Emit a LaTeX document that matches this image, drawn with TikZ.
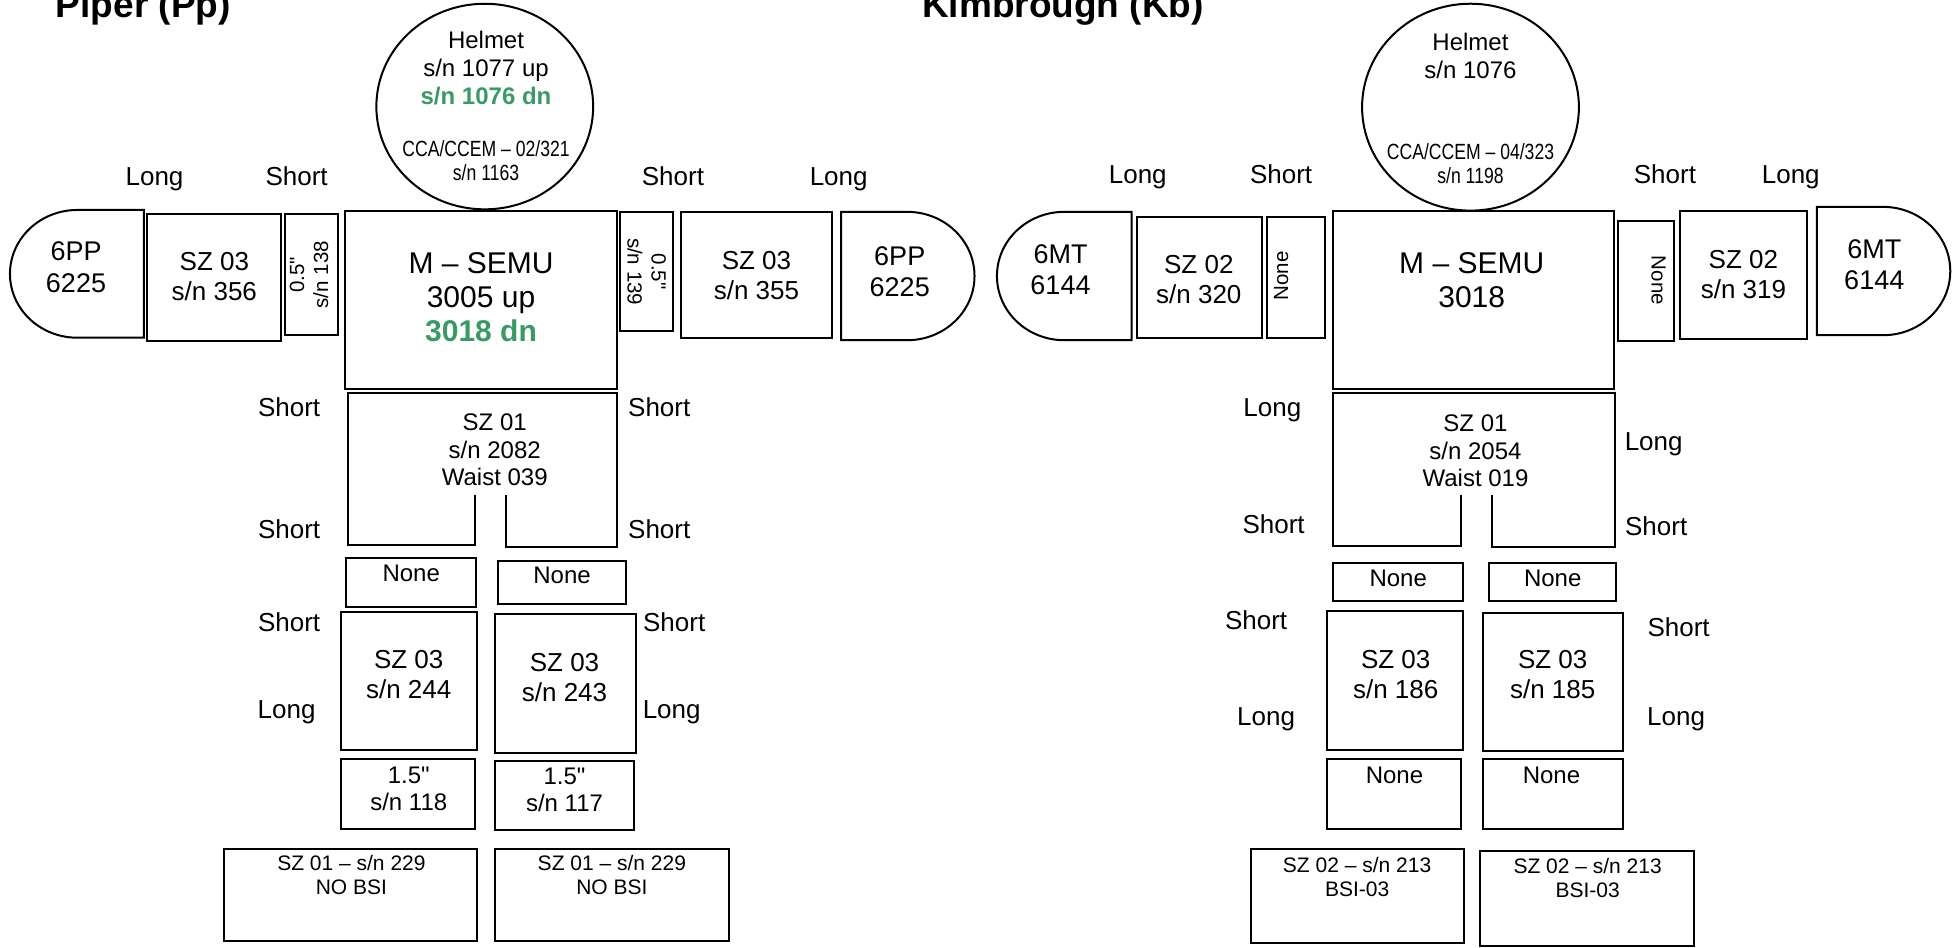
\documentclass[tikz,border=0pt]{standalone}
\usepackage{fontspec}
\usepackage{graphicx}
\setmainfont{Liberation Sans}
\usetikzlibrary{fit,shapes.geometric}
\definecolor{grn}{RGB}{56,155,100}
\font\qsmall="Liberation Sans" at 20.5pt
\font\qbig="Liberation Sans" at 24pt
\begin{document}
\begin{tikzpicture}[x=1.2462pt, y=1.2462pt,
  bx/.style={draw, line width=2pt, inner sep=0pt, outer sep=0pt, rectangle},
  shp/.style={draw, line width=2pt},
  helm/.style={draw, line width=2pt, ellipse, inner sep=0pt},
  t/.style={inner sep=0pt, align=center},
  f30/.style={t, font=\fontsize{30}{34}\selectfont},
  f27/.style={t, font=\fontsize{27}{31.5}\selectfont},
  f26/.style={t, font=\fontsize{26}{30}\selectfont},
  f24/.style={t, font=\fontsize{24}{27.5}\selectfont},
  f24h/.style={t, font=\fontsize{24}{28}\selectfont},
  f21/.style={t, font=\fontsize{21}{24}\selectfont},
  cca/.style={t, font=\fontsize{22}{24}\selectfont},
  rot/.style={t, font=\fontsize{20.5}{24}\selectfont},
  lbl/.style={inner sep=0pt, font=\fontsize{26}{30}\selectfont, text height=18.6pt, text depth=0pt},
  nn/.style={inner sep=0pt, font=\fontsize{24}{28}\selectfont, text height=17.2pt, text depth=0pt},
  ttl/.style={inner sep=0pt, font=\fontsize{37}{42}\selectfont\bfseries}
]
\useasboundingbox (0,0) rectangle (1568,-760);

% titles
\node[ttl, anchor=base west] (ptitle) at (44.7,-14.4) {Piper (Pp)};
\node[ttl, anchor=base west] (ktitle) at (739.8,-14.4) {Kimbrough (Kb)};

% ================= PIPER =================
\node[helm, minimum width=216.8pt, minimum height=205.6pt] (phelm) at (389,-85.5) {};
\node[f24h] (phelmt) at (390,-54.6) {Helmet\\s/n 1077 up\\\textcolor{grn}{\textbf{s/n 1076 dn}}};
\node[cca] (phelmc) at (390,-129.3) {\scalebox{0.8}[1]{CCA/CCEM -- 02/321}\\\scalebox{0.8}[1]{s/n 1163}};

\node[lbl] (pl1) at (124,-141) {Long};
\node[lbl] (pl2) at (238,-141) {Short};
\node[lbl] (pl3) at (540,-141) {Short};
\node[lbl] (pl4) at (673,-141) {Long};

\draw[shp] (115.5,-168.5) -- (62,-168.5) arc[start angle=90, end angle=270, x radius=54, y radius=51.25] -- (115.5,-271) -- cycle;
\node[f27] (pglovel) at (61,-214.5) {6PP\\6225};
\node[bx, fit={(118,-172) (225.5,-273.5)}] (parml) {};
\node[f26] (parmlt) at (172,-222) {SZ 03\\s/n 356};
\node[bx, fit={(229,-172) (271,-269)}] (pringl) {};
\node[rot, rotate=90] (pringlt) at (248,-220.5) {0.5{\qsmall"}\\s/n 138};
\node[bx, fit={(277,-169) (495,-312)}] (phut) {};
\node[f30] (phutt) at (386,-238.7) {M -- SEMU\\3005 up\\\textcolor{grn}{\textbf{3018 dn}}};
\node[bx, fit={(497.5,-170) (540,-266)}] (pringr) {};
\node[rot, rotate=-90] (pringrt) at (519,-218) {0.5{\qsmall"}\\s/n 139};
\node[bx, fit={(546.5,-170) (668,-271)}] (parmr) {};
\node[f26] (parmrt) at (607,-221) {SZ 03\\s/n 355};
\draw[shp] (675,-170) -- (728,-170) arc[start angle=90, end angle=-90, x radius=54, y radius=51.5] -- (675,-273) -- cycle;
\node[f27] (pglover) at (722,-218) {6PP\\6225};

\node[lbl] (pl5) at (232,-327) {Short};
\node[lbl] (pl6) at (529,-327) {Short};
\draw[shp] (381,-397) -- (381,-437) -- (279,-437) -- (279,-315) -- (495,-315) -- (495,-439) -- (406,-439) -- (406,-397);
\node[f24] (plta) at (397,-361) {SZ 01\\s/n 2082\\Waist 039};
\node[lbl] (pl7) at (232,-425) {Short};
\node[lbl] (pl8) at (529,-425) {Short};

\node[bx, fit={(278,-448) (382,-487)}] (pnl) {};
\node[nn] (pnlt) at (330,-460) {None};
\node[bx, fit={(400,-450) (502,-485)}] (pnr) {};
\node[nn] (pnrt) at (451,-461) {None};

\node[lbl] (pl9) at (232,-499) {Short};
\node[lbl] (pl10) at (541,-499) {Short};
\node[bx, fit={(274,-491) (383,-602)}] (plegl) {};
\node[f26] (plegl2) at (328,-541) {SZ 03\\s/n 244};
\node[bx, fit={(397,-493) (510,-604)}] (plegr) {};
\node[f26] (plegr2) at (453,-543.5) {SZ 03\\s/n 243};
\node[lbl] (pl11) at (230,-569) {Long};
\node[lbl] (pl12) at (539,-569) {Long};

\node[bx, fit={(274,-609) (381,-665)}] (pbl) {};
\node[f24] (pblt) at (328,-633) {1.5{\qbig"}\\s/n 118};
\node[bx, fit={(397,-611) (509,-666)}] (pbr) {};
\node[f24] (pbrt) at (453,-634) {1.5{\qbig"}\\s/n 117};

\node[bx, fit={(180,-681) (383,-755)}] (pbootl) {};
\node[f21] (pbootlt) at (282,-702.5) {SZ 01 -- s/n 229\\NO BSI};
\node[bx, fit={(397,-681) (585,-755)}] (pbootr) {};
\node[f21] (pbootrt) at (491,-702.5) {SZ 01 -- s/n 229\\NO BSI};

% ================= KIMBROUGH =================
\node[helm, minimum width=216.8pt, minimum height=206.9pt] (khelm) at (1180,-86) {};
\node[f24h] (khelmt) at (1180,-45) {Helmet\\s/n 1076};
\node[cca] (khelmc) at (1180,-131) {\scalebox{0.8}[1]{CCA/CCEM -- 04/323}\\\scalebox{0.8}[1]{s/n 1198}};

\node[lbl] (kl1) at (913,-140) {Long};
\node[lbl] (kl2) at (1028,-140) {Short};
\node[lbl] (kl3) at (1336,-140) {Short};
\node[lbl] (kl4) at (1437,-140) {Long};

\draw[shp] (908,-170) -- (854,-170) arc[start angle=90, end angle=270, x radius=54, y radius=51.5] -- (908,-273) -- cycle;
\node[f27] (kglovel) at (851,-216.5) {6MT\\6144};
\node[bx, fit={(912,-174) (1013,-271)}] (karml) {};
\node[f26] (karmlt) at (962,-224) {SZ 02\\s/n 320};
\node[bx, fit={(1017,-174) (1063,-271)}] (kringl) {};
\node[rot, rotate=90] (kringlt) at (1028,-221.5) {None};
\node[bx, fit={(1070,-169) (1295,-312)}] (khut) {};
\node[f30] (khutt) at (1181,-224.5) {M -- SEMU\\3018};
\node[bx, fit={(1298,-177) (1343,-274)}] (kringr) {};
\node[rot, rotate=-90] (kringrt) at (1331,-225) {None};
\node[bx, fit={(1348,-169) (1450,-272)}] (karmr) {};
\node[f26] (karmrt) at (1399,-220.5) {SZ 02\\s/n 319};
\draw[shp] (1458,-166) -- (1511,-166) arc[start angle=90, end angle=-90, x radius=54, y radius=51.5] -- (1458,-269) -- cycle;
\node[f27] (kglover) at (1504,-212.5) {6MT\\6144};

\node[lbl] (kl5) at (1021,-327) {Long};
\node[lbl] (kl6) at (1327,-354) {Long};
\draw[shp] (1172,-397) -- (1172,-438) -- (1070,-438) -- (1070,-315) -- (1296,-315) -- (1296,-439) -- (1197,-439) -- (1197,-397);
\node[f24] (klta) at (1184,-362) {SZ 01\\s/n 2054\\Waist 019};
\node[lbl] (kl7) at (1022,-421) {Short};
\node[lbl] (kl8) at (1329,-422) {Short};

\node[bx, fit={(1070,-452) (1174,-482)}] (knl) {};
\node[nn] (knlt) at (1122,-464) {None};
\node[bx, fit={(1195,-452) (1297,-482)}] (knr) {};
\node[nn] (knrt) at (1246,-464) {None};

\node[lbl] (kl9) at (1008,-498) {Short};
\node[lbl] (kl10) at (1347,-503) {Short};
\node[bx, fit={(1065,-490) (1174,-602)}] (klegl) {};
\node[f26] (klegl2) at (1120,-541) {SZ 03\\s/n 186};
\node[bx, fit={(1190,-492) (1302,-603)}] (klegr) {};
\node[f26] (klegr2) at (1246,-541.5) {SZ 03\\s/n 185};
\node[lbl] (kl11) at (1016,-575) {Long};
\node[lbl] (kl12) at (1345,-575) {Long};

\node[bx, fit={(1065,-609) (1172,-665)}] (kbl) {};
\node[nn] (kblt) at (1119,-622) {None};
\node[bx, fit={(1190,-609) (1302,-665)}] (kbr) {};
\node[nn] (kbrt) at (1245,-622) {None};

\node[bx, fit={(1004,-681) (1175,-757)}] (kbootl) {};
\node[f21] (kbootlt) at (1089,-703.5) {SZ 02 -- s/n 213\\BSI-03};
\node[bx, fit={(1188,-683) (1359,-759)}] (kbootr) {};
\node[f21] (kbootrt) at (1274,-704.5) {SZ 02 -- s/n 213\\BSI-03};
\end{tikzpicture}
\end{document}
